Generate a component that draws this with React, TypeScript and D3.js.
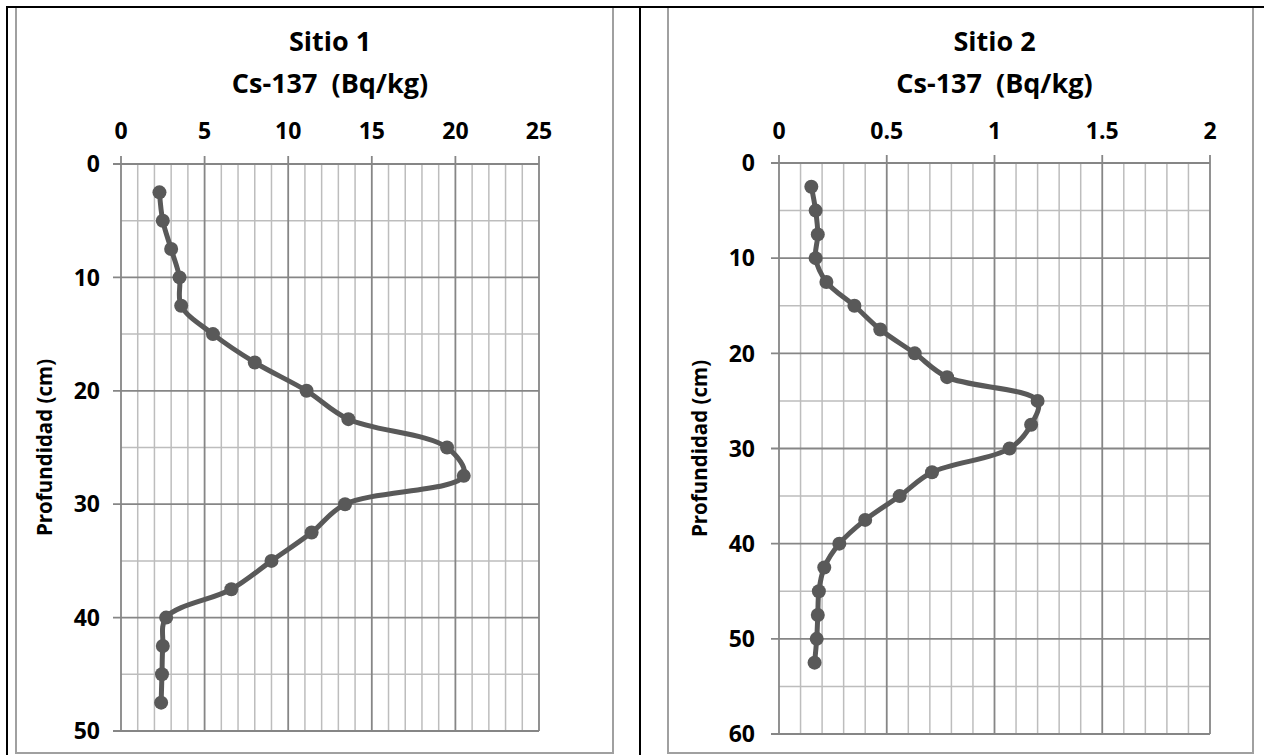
import React from 'react';
import * as d3 from 'd3';

// Sitio 1 : profundidad (cm) vs Cs-137 (Bq/kg)
const depth1 = [2.5, 5, 7.5, 10, 12.5, 15, 17.5, 20, 22.5, 25, 27.5, 30, 32.5, 35, 37.5, 40, 42.5, 45, 47.5];
const cs1 = [2.3, 2.5, 3.0, 3.5, 3.6, 5.5, 8.0, 11.1, 13.6, 19.5, 20.5, 13.4, 11.4, 9.0, 6.6, 2.7, 2.5, 2.45, 2.4];

// Sitio 2
const depth2 = [2.5, 5, 7.5, 10, 12.5, 15, 17.5, 20, 22.5, 25, 27.5, 30, 32.5, 35, 37.5, 40, 42.5, 45, 47.5, 50, 52.5];
const cs2 = [0.15, 0.17, 0.18, 0.17, 0.22, 0.35, 0.47, 0.63, 0.78, 1.2, 1.17, 1.07, 0.71, 0.56, 0.4, 0.28, 0.21, 0.185, 0.18, 0.175, 0.165];

const xTicks1 = [0, 5, 10, 15, 20, 25];
const yTicks1 = [0, 10, 20, 30, 40, 50];
const xTicks2 = [0, 0.5, 1, 1.5, 2];
const yTicks2 = [0, 10, 20, 30, 40, 50, 60];

const titles1 = ['Sitio 1', 'Cs-137  (Bq/kg)'];
const titles2 = ['Sitio 2', 'Cs-137  (Bq/kg)'];
const yTitle = 'Profundidad (cm)';

const FONT = "'Open Sans', sans-serif";
const MAJOR = '#868686';
const MINOR = '#bdbdbd';
const INK = '#595959';

function Panel({frame, plot, xTicks, yTicks, xMinor, yMinor, xs, ys, titles, yLabelX, yLabelRight}) {
  const x = d3.scaleLinear().domain([xTicks[0], xTicks[xTicks.length - 1]]).range([plot.l, plot.r]);
  const y = d3.scaleLinear().domain([yTicks[0], yTicks[yTicks.length - 1]]).range([plot.t, plot.b]);

  const pts = xs.map((v, i) => [v, ys[i]]);
  const line = d3.line().x(d => x(d[0])).y(d => y(d[1])).curve(d3.curveCatmullRom.alpha(0.5));

  // minor grid positions
  const xm = d3.range(x.domain()[0], x.domain()[1] + 1e-9, xMinor).filter(v => !xTicks.some(t => Math.abs(t - v) < 1e-9));
  const ym = d3.range(y.domain()[0], y.domain()[1] + 1e-9, yMinor).filter(v => !yTicks.some(t => Math.abs(t - v) < 1e-9));
  const cx = (plot.l + plot.r) / 2;
  const cy = (plot.t + plot.b) / 2;

  return (
    <g>
      <rect x={frame.x} y={frame.y} width={frame.w} height={frame.h} fill="#fff" stroke="#a0a0a0" strokeWidth={2} />
      <text x={cx} y={51} textAnchor="middle" fontFamily={FONT} fontWeight="bold" fontSize={27}>{titles[0]}</text>
      <text x={cx} y={93} textAnchor="middle" fontFamily={FONT} fontWeight="bold" fontSize={27} style={{whiteSpace: 'pre'}}>{titles[1]}</text>

      {/* minor grid */}
      {xm.map(v => <line key={'xm' + v} x1={x(v)} x2={x(v)} y1={plot.t} y2={plot.b} stroke={MINOR} strokeWidth={1.5} />)}
      {ym.map(v => <line key={'ym' + v} x1={plot.l} x2={plot.r} y1={y(v)} y2={y(v)} stroke={MINOR} strokeWidth={1.5} />)}
      {/* major grid + ticks */}
      {xTicks.map(v => <line key={'xM' + v} x1={x(v)} x2={x(v)} y1={plot.t - 8} y2={plot.b} stroke={MAJOR} strokeWidth={1.8} />)}
      {yTicks.map(v => <line key={'yM' + v} x1={plot.l - 8} x2={plot.r} y1={y(v)} y2={y(v)} stroke={MAJOR} strokeWidth={1.8} />)}

      {xTicks.map(v => (
        <text key={'xt' + v} x={x(v)} y={139} textAnchor="middle" fontFamily={FONT} fontWeight="bold" fontSize={23}>{String(v)}</text>
      ))}
      {yTicks.map(v => (
        <text key={'yt' + v} x={yLabelRight} y={y(v)} dy="0.36em" textAnchor="end" fontFamily={FONT} fontWeight="bold" fontSize={23}>{String(v)}</text>
      ))}
      <text transform={`translate(${yLabelX},${cy}) rotate(-90)`} textAnchor="middle" dy="0.35em" fontFamily={FONT} fontWeight="bold" fontSize={20.5}>{yTitle}</text>

      <path d={line(pts)} fill="none" stroke={INK} strokeWidth={5} strokeLinejoin="round" />
      {pts.map((d, i) => <circle key={i} cx={x(d[0])} cy={y(d[1])} r={7} fill={INK} />)}
    </g>
  );
}

export default function App() {
  return (
    <svg width={1264} height={755} style={{position: 'absolute', left: 0, top: 0, background: '#fff'}}>
      <Panel
        frame={{x: 16, y: 7, w: 597, h: 746}}
        plot={{l: 121, r: 539, t: 164, b: 731}}
        xTicks={xTicks1} yTicks={yTicks1} xMinor={1} yMinor={5}
        xs={cs1} ys={depth1} titles={titles1} yLabelX={45} yLabelRight={100}
      />
      <Panel
        frame={{x: 668, y: 7, w: 585, h: 746}}
        plot={{l: 779, r: 1210, t: 163, b: 734}}
        xTicks={xTicks2} yTicks={yTicks2} xMinor={0.1} yMinor={5}
        xs={cs2} ys={depth2} titles={titles2} yLabelX={700} yLabelRight={755}
      />
      {/* table borders */}
      <line x1={6} x2={1264} y1={7} y2={7} stroke="#000" strokeWidth={2} />
      <line x1={7} x2={7} y1={6} y2={755} stroke="#000" strokeWidth={2} />
      <line x1={640} x2={640} y1={6} y2={755} stroke="#000" strokeWidth={2} />
    </svg>
  );
}
